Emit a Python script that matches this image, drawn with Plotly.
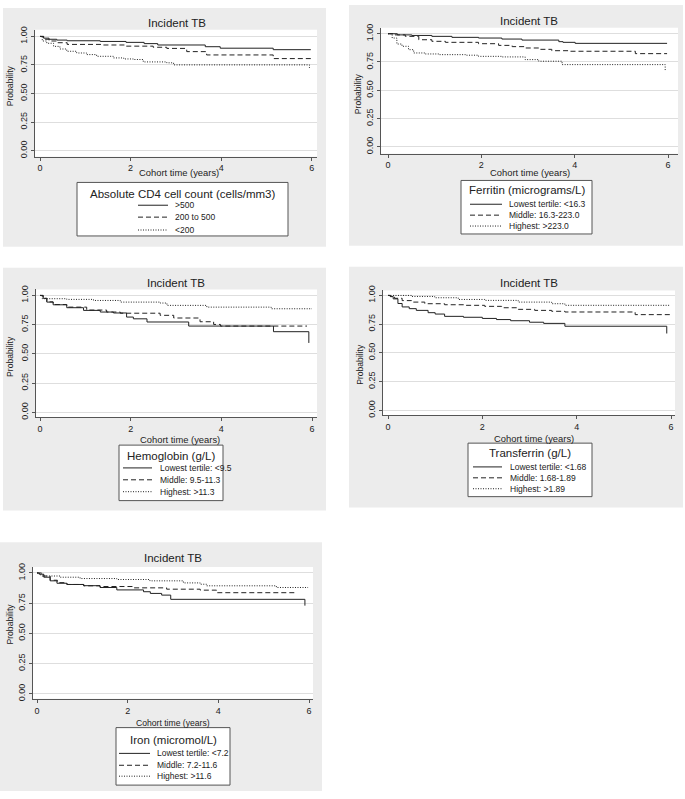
import plotly.graph_objects as go

# ---------------- data ----------------
X_TICKS = [0, 2, 4, 6]
Y_TICKS = [0, 0.25, 0.5, 0.75, 1.0]
Y_TICK_TEXT = ["0.00", "0.25", "0.50", "0.75", "1.00"]
PANEL_TITLE = "Incident TB"
X_TITLE = "Cohort time (years)"
Y_TITLE = "Probability"

LEGEND_TITLES = [
    "Absolute CD4 cell count (cells/mm3)",
    "Ferritin (micrograms/L)",
    "Hemoglobin (g/L)",
    "Transferrin (g/L)",
    "Iron (micromol/L)",
]
GROUP_LABELS = [
    [">500", "200 to 500", "<200"],
    ["Lowest tertile: <16.3", "Middle: 16.3-223.0", "Highest: >223.0"],
    ["Lowest tertile: <9.5", "Middle: 9.5-11.3", "Highest: >11.3"],
    ["Lowest tertile: <1.68", "Middle: 1.68-1.89", "Highest: >1.89"],
    ["Lowest tertile: <7.2", "Middle: 7.2-11.6", "Highest: >11.6"],
]

# Panel 1: CD4
cd4_gt500_t = [0, 0.08, 0.2, 0.37, 0.6, 1.33, 1.9, 2.3, 2.6, 3.65, 3.98, 5.15, 5.98]
cd4_gt500_s = [1.0, 0.985, 0.975, 0.968, 0.962, 0.956, 0.948, 0.937, 0.925, 0.91, 0.897, 0.884, 0.884]
cd4_mid_t = [0, 0.08, 0.2, 0.37, 0.6, 1.4, 1.9, 2.5, 2.8, 3.24, 3.68, 5.15, 5.98]
cd4_mid_s = [1.0, 0.975, 0.96, 0.945, 0.93, 0.925, 0.915, 0.905, 0.895, 0.867, 0.838, 0.806, 0.806]
cd4_lt200_t = [0, 0.05, 0.15, 0.3, 0.44, 0.59, 0.81, 1.03, 1.25, 1.62, 1.85, 2.06, 2.28, 2.8, 2.95, 5.95]
cd4_lt200_s = [1.0, 0.96, 0.94, 0.913, 0.89, 0.87, 0.855, 0.841, 0.826, 0.812, 0.803, 0.798, 0.777, 0.769, 0.751, 0.725]

# Panel 2: Ferritin
fer_low_t = [0, 0.2, 0.51, 0.94, 1.37, 1.94, 2.44, 2.87, 3.66, 3.75, 4.01, 5.98]
fer_low_s = [1.0, 0.99, 0.985, 0.977, 0.968, 0.962, 0.953, 0.944, 0.93, 0.924, 0.915, 0.915]
fer_mid_t = [0, 0.15, 0.37, 0.66, 0.94, 1.23, 1.94, 2.37, 2.66, 2.94, 3.23, 3.51, 3.87, 5.3, 5.98]
fer_mid_s = [1.0, 0.99, 0.977, 0.947, 0.933, 0.924, 0.912, 0.897, 0.886, 0.874, 0.862, 0.85, 0.845, 0.824, 0.824]
fer_high_t = [0, 0.09, 0.19, 0.3, 0.44, 0.55, 0.8, 1.09, 1.66, 1.94, 2.44, 2.94, 3.23, 3.73, 5.94]
fer_high_s = [1.0, 0.962, 0.909, 0.889, 0.859, 0.83, 0.821, 0.815, 0.81, 0.8, 0.795, 0.771, 0.757, 0.727, 0.669]

# Panel 3: Hemoglobin
hgb_low_t = [0, 0.07, 0.15, 0.29, 0.59, 0.96, 1.33, 1.62, 1.91, 2.06, 2.36, 3.28, 5.15, 5.93]
hgb_low_s = [1.0, 0.975, 0.943, 0.92, 0.895, 0.872, 0.858, 0.85, 0.815, 0.80, 0.773, 0.738, 0.69, 0.594]
hgb_mid_t = [0, 0.07, 0.15, 0.29, 0.59, 1.03, 1.47, 1.77, 2.65, 2.95, 3.53, 3.83, 3.98, 5.89]
hgb_mid_s = [1.0, 0.975, 0.945, 0.922, 0.9, 0.875, 0.858, 0.848, 0.83, 0.807, 0.775, 0.752, 0.738, 0.738]
hgb_high_t = [0, 0.05, 0.59, 1.18, 1.77, 2.65, 2.8, 3.68, 5.1, 6.0]
hgb_high_s = [1.0, 0.972, 0.966, 0.957, 0.943, 0.935, 0.915, 0.9, 0.886, 0.886]

# Panel 4: Transferrin
trf_low_t = [0, 0.05, 0.11, 0.21, 0.3, 0.45, 0.6, 0.85, 1.0, 1.2, 1.6, 2.0, 2.3, 2.6, 3.0, 3.3, 3.75, 5.91]
trf_low_s = [1.0, 0.99, 0.97, 0.93, 0.9, 0.885, 0.87, 0.85, 0.838, 0.818, 0.81, 0.8, 0.79, 0.78, 0.767, 0.757, 0.732, 0.669]
trf_mid_t = [0, 0.05, 0.14, 0.3, 0.5, 0.78, 1.2, 1.63, 2.05, 2.41, 2.76, 3.11, 3.47, 3.75, 5.24, 5.98]
trf_mid_s = [1.0, 0.99, 0.975, 0.955, 0.942, 0.928, 0.919, 0.914, 0.905, 0.893, 0.879, 0.87, 0.862, 0.856, 0.833, 0.833]
trf_high_t = [0, 0.5, 0.99, 1.49, 2.05, 2.76, 3.47, 3.75, 5.98]
trf_high_s = [1.0, 0.991, 0.98, 0.965, 0.957, 0.942, 0.928, 0.914, 0.914]

# Panel 5: Iron
iron_low_t = [0, 0.05, 0.15, 0.29, 0.44, 0.66, 1.03, 1.39, 1.76, 2.35, 2.5, 2.75, 2.95, 5.91]
iron_low_s = [1.0, 0.99, 0.965, 0.935, 0.915, 0.905, 0.895, 0.88, 0.86, 0.845, 0.831, 0.817, 0.782, 0.73]
iron_mid_t = [0, 0.1, 0.29, 0.45, 0.66, 1.03, 1.39, 2.13, 2.86, 3.6, 3.96, 5.72]
iron_mid_s = [1.0, 0.975, 0.94, 0.92, 0.905, 0.894, 0.888, 0.877, 0.866, 0.858, 0.837, 0.837]
iron_high_t = [0, 0.05, 0.15, 0.51, 0.95, 1.76, 2.49, 3.23, 3.6, 3.74, 5.28, 5.98]
iron_high_s = [1.0, 0.985, 0.975, 0.965, 0.954, 0.946, 0.935, 0.918, 0.907, 0.894, 0.88, 0.88]

SERIES = [
    [(cd4_gt500_t, cd4_gt500_s), (cd4_mid_t, cd4_mid_s), (cd4_lt200_t, cd4_lt200_s)],
    [(fer_low_t, fer_low_s), (fer_mid_t, fer_mid_s), (fer_high_t, fer_high_s)],
    [(hgb_low_t, hgb_low_s), (hgb_mid_t, hgb_mid_s), (hgb_high_t, hgb_high_s)],
    [(trf_low_t, trf_low_s), (trf_mid_t, trf_mid_s), (trf_high_t, trf_high_s)],
    [(iron_low_t, iron_low_s), (iron_mid_t, iron_mid_s), (iron_high_t, iron_high_s)],
]

# ---------------- layout (pixel geometry) ----------------
W, H = 685, 799
FONT = "Liberation Sans, Arial, sans-serif"
INK = "#222222"
AXIS = "#555555"
GRID = "#dedede"
PANEL_BG = "#ececec"
DASHES = ["solid", "5px,3px", "1px,1.5px"]

PANELS = [
    dict(bg=(3, 3, 326, 244), plot=(35, 25, 317, 153), xt=(40, 311.7), yt=(31.7, 147),
         title=(177, 18), xtitle=(179, 169), ytitle=(10, 82), xts=9.4,
         box=(77, 179, 288, 233), legtitle_y=191, items_y=(202, 214, 227),
         sample=(138, 168), text_x=173),
    dict(bg=(349, 0, 683, 243), plot=(381, 23, 678, 150), xt=(388, 668), yt=(29, 143),
         title=(529, 16), xtitle=(530, 169), ytitle=(358, 90), xts=9.4,
         box=(461, 177, 592, 231), legtitle_y=187, items_y=(201, 212, 223),
         sample=(470, 502), text_x=507),
    dict(bg=(3, 265, 326, 510), plot=(36, 287, 317, 416), xt=(40, 312), yt=(293, 411),
         title=(176, 280), xtitle=(180, 438), ytitle=(10, 355), xts=9.4,
         box=(119, 444, 223, 500), legtitle_y=455, items_y=(467, 479, 491),
         sample=(123, 152), text_x=158),
    dict(bg=(349, 264, 683, 507), plot=(383, 288, 675, 414), xt=(388, 671), yt=(293, 409),
         title=(529, 280), xtitle=(534, 437), ytitle=(360, 363), xts=9.4,
         box=(468, 442, 592, 496), legtitle_y=452, items_y=(466, 477, 488),
         sample=(473, 502), text_x=508),
    dict(bg=(0, 542, 322, 793), plot=(33, 567, 313, 700), xt=(37, 309), yt=(573, 695),
         title=(173, 558), xtitle=(173, 724), ytitle=(10, 625), xts=8.6,
         box=(116, 729, 230, 787), legtitle_y=741, items_y=(755, 767, 778),
         sample=(119, 150), text_x=155),
]


def px(x):
    return x / W


def py(y):
    return 1 - y / H


def esc(s):
    return s.replace("<", "&lt;").replace(">", "&gt;")


fig = go.Figure()
shapes = []
annotations = []
layout_axes = {}

for i, p in enumerate(PANELS):
    n = i + 1
    xs = "" if n == 1 else str(n)
    xref, yref = "x" + xs, "y" + xs
    l, t, r, b = p["plot"]
    x0p, x6p = p["xt"]
    y1p, y0p = p["yt"]
    xppu = (x6p - x0p) / 6.0
    yppu = (y0p - y1p)
    xr = [(l - x0p) / xppu, 6 + (r - x6p) / xppu]
    yr = [-(b - y0p) / yppu, 1 + (y1p - t) / yppu]

    layout_axes["xaxis" + xs] = dict(
        domain=[px(l), px(r)], range=xr, anchor=yref,
        tickmode="array", tickvals=X_TICKS, ticks="outside", ticklen=3,
        tickcolor=AXIS, tickwidth=1, showline=True, linecolor=AXIS, linewidth=1,
        showgrid=False, zeroline=False, fixedrange=True,
        tickfont=dict(family=FONT, size=9, color=INK),
    )
    layout_axes["yaxis" + xs] = dict(
        domain=[py(b), py(t)], range=yr, anchor=xref,
        tickmode="array", tickvals=Y_TICKS, ticktext=Y_TICK_TEXT, tickangle=-90,
        ticks="outside", ticklen=3, tickcolor=AXIS, tickwidth=1,
        showline=True, linecolor=AXIS, linewidth=1,
        showgrid=True, gridcolor=GRID, gridwidth=1, zeroline=False, fixedrange=True,
        tickfont=dict(family=FONT, size=9, color=INK),
    )

    # gray graph region and white plot region
    bx0, by0, bx1, by1 = p["bg"]
    shapes.append(dict(type="rect", xref="paper", yref="paper", layer="below",
                       x0=px(bx0), x1=px(bx1), y0=py(by1), y1=py(by0),
                       fillcolor=PANEL_BG, line=dict(width=0)))
    shapes.append(dict(type="rect", xref=xref + " domain", yref=yref + " domain", layer="below",
                       x0=0, x1=1, y0=0, y1=1, fillcolor="white", line=dict(width=0)))

    # curves
    for k, (tt, ss) in enumerate(SERIES[i]):
        fig.add_trace(go.Scatter(
            x=tt, y=ss, mode="lines", xaxis=xref, yaxis=yref, showlegend=False,
            name=GROUP_LABELS[i][k],
            line=dict(shape="hv", color=INK, width=1, dash=DASHES[k]),
            hoverinfo="skip",
        ))

    # titles
    annotations.append(dict(text=PANEL_TITLE, x=px(p["title"][0]), y=py(p["title"][1]),
                            xref="paper", yref="paper", showarrow=False,
                            xanchor="center", yanchor="middle",
                            font=dict(family=FONT, size=11.5, color=INK)))
    annotations.append(dict(text=X_TITLE, x=px(p["xtitle"][0]), y=py(p["xtitle"][1]),
                            xref="paper", yref="paper", showarrow=False,
                            xanchor="center", yanchor="middle",
                            font=dict(family=FONT, size=p["xts"], color=INK)))
    annotations.append(dict(text=Y_TITLE, x=px(p["ytitle"][0]), y=py(p["ytitle"][1]),
                            xref="paper", yref="paper", showarrow=False, textangle=-90,
                            xanchor="center", yanchor="middle",
                            font=dict(family=FONT, size=8.6, color=INK)))

    # legend box
    lx0, ly0, lx1, ly1 = p["box"]
    shapes.append(dict(type="rect", xref="paper", yref="paper", layer="above",
                       x0=px(lx0), x1=px(lx1), y0=py(ly1), y1=py(ly0),
                       fillcolor="white", line=dict(color=AXIS, width=1)))
    annotations.append(dict(text=esc(LEGEND_TITLES[i]), x=px((lx0 + lx1) / 2), y=py(p["legtitle_y"]),
                            xref="paper", yref="paper", showarrow=False,
                            xanchor="center", yanchor="middle",
                            font=dict(family=FONT, size=11.5, color=INK)))
    sx0, sx1 = p["sample"]
    for k, lab in enumerate(GROUP_LABELS[i]):
        iy = p["items_y"][k]
        shapes.append(dict(type="line", xref="paper", yref="paper", layer="above",
                           x0=px(sx0), x1=px(sx1), y0=py(iy), y1=py(iy),
                           line=dict(color=INK, width=1, dash=DASHES[k])))
        annotations.append(dict(text=esc(lab), x=px(p["text_x"]), y=py(iy),
                                xref="paper", yref="paper", showarrow=False,
                                xanchor="left", yanchor="middle",
                                font=dict(family=FONT, size=8.5, color=INK)))

fig.update_layout(
    width=W, height=H, margin=dict(l=0, r=0, t=0, b=0),
    paper_bgcolor="white", plot_bgcolor="rgba(0,0,0,0)",
    showlegend=False, shapes=shapes, annotations=annotations,
    font=dict(family=FONT, color=INK),
    **layout_axes,
)

fig.write_html(
    "out.html",
    config={"displayModeBar": False},
    post_script="document.body.style.margin='0px';document.body.style.overflow='hidden';",
)
